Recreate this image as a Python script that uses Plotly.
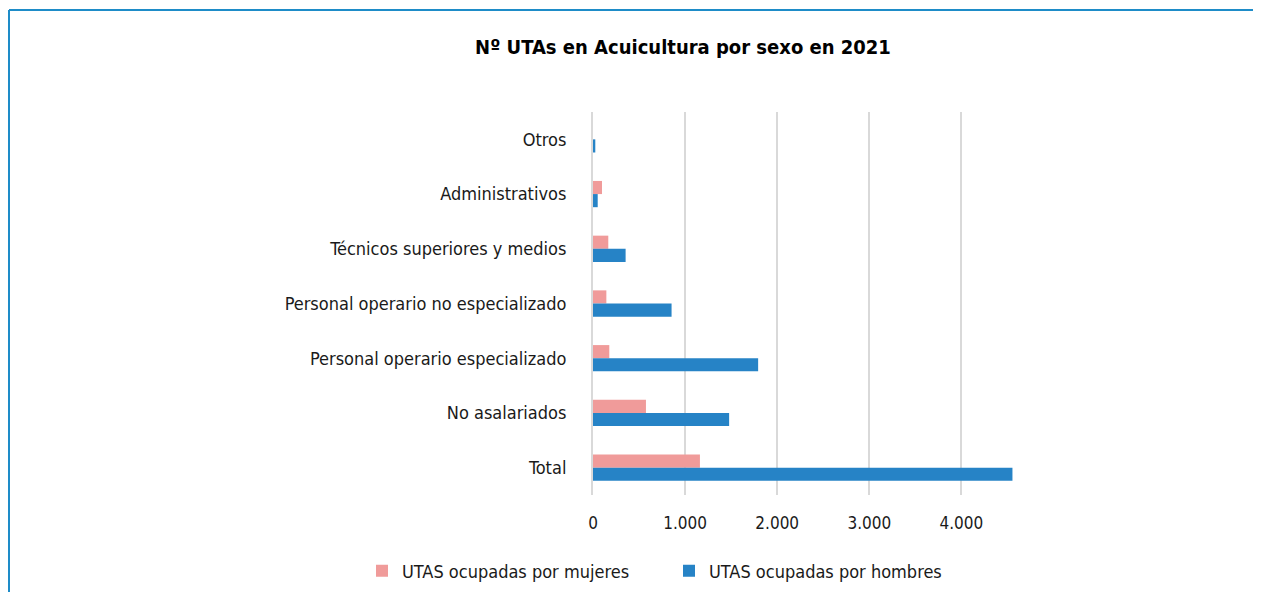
import plotly.graph_objects as go

CATEGORIAS = [
    "Otros",
    "Administrativos",
    "Técnicos superiores y medios",
    "Personal operario no especializado",
    "Personal operario especializado",
    "No asalariados",
    "Total",
]
MUJERES = [0, 98, 166, 145, 177, 575, 1161]
HOMBRES = [25, 51, 354, 853, 1793, 1478, 4554]
TICKS = [0, 1000, 2000, 3000, 4000]
TICK_TEXT = ["0", "1.000", "2.000", "3.000", "4.000"]

PINK = "#F09B9A"
BLUE = "#2683C6"
FONT = "Liberation Sans Narrow, DejaVu Sans Condensed, Roboto, sans-serif"

# page body adds an 8px margin, so work in screen pixels minus that offset
OFF = 8
W, H = 1261 - OFF, 592 - OFF
L, R, T, B = 593 - OFF, 1013 - OFF, 112 - OFF, 495 - OFF


def px_x(x):
    return (x - OFF - L) / (R - L)


def px_y(y):
    return (B - (y - OFF)) / (B - T)


fig = go.Figure()
fig.add_trace(go.Bar(
    y=CATEGORIAS, x=MUJERES, orientation="h",
    name="UTAS ocupadas por mujeres",
    marker=dict(color=PINK, line=dict(width=0)),
))
fig.add_trace(go.Bar(
    y=CATEGORIAS, x=HOMBRES, orientation="h",
    name="UTAS ocupadas por hombres",
    marker=dict(color=BLUE, line=dict(width=0)),
))

fig.update_layout(
    width=W, height=H,
    template="plotly_white",
    paper_bgcolor="white", plot_bgcolor="white",
    font=dict(family=FONT, size=18, color="#1a1a1a"),
    margin=dict(l=L, r=W - R, t=T, b=H - B, autoexpand=False),
    barmode="group", bargap=0.52, bargroupgap=0,
    title=dict(
        text="<b>Nº UTAs en Acuicultura por sexo en 2021</b>",
        x=px_x(683), xref="paper", xanchor="center",
        y=1 - (47 - OFF) / H, yanchor="middle",
        font=dict(family=FONT, size=20, color="#000000"),
    ),
    xaxis=dict(
        range=[0, 4560], tickvals=TICKS, ticktext=TICK_TEXT,
        showgrid=True, gridcolor="#D9D9D9", gridwidth=2,
        zeroline=False, showline=False,
        tickfont=dict(size=17, color="#1a1a1a"),
        ticklabelstandoff=16,
    ),
    yaxis=dict(
        autorange="reversed", showgrid=False, zeroline=False,
        showline=True, linecolor="#D9D9D9", linewidth=2,
        ticklabelstandoff=21,
        tickfont=dict(size=18, color="#1a1a1a"),
    ),
    legend=dict(
        orientation="h", x=px_x(362), xanchor="left",
        y=px_y(571), yanchor="middle",
        font=dict(size=18, color="#1a1a1a"),
        entrywidth=262, entrywidthmode="pixels",
        itemwidth=30, bgcolor="rgba(0,0,0,0)",
    ),
    shapes=[
        dict(type="line", xref="paper", yref="paper",
             x0=px_x(OFF + 1), y0=px_y(10), x1=px_x(1261 + 20), y1=px_y(10),
             line=dict(color="#1E8CC8", width=2)),
        dict(type="line", xref="paper", yref="paper",
             x0=px_x(OFF + 1), y0=px_y(10), x1=px_x(OFF + 1), y1=px_y(592 + 20),
             line=dict(color="#1E8CC8", width=2)),
    ],
)

fig.write_html("out.html")
